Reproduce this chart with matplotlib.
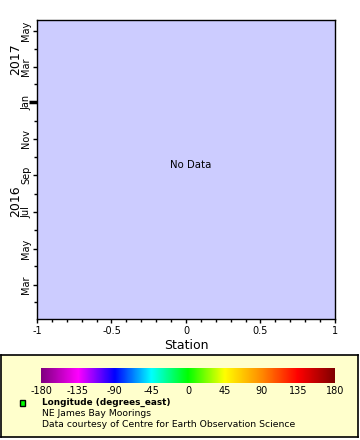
import numpy as np
import pandas as pd
import matplotlib
matplotlib.use("Agg")
import matplotlib.pyplot as plt
import matplotlib.dates as mdates
from matplotlib.colors import LinearSegmentedColormap
from matplotlib.patches import Rectangle

plt.rcParams['font.family'] = ['DejaVu Sans']
plt.rcParams['axes.unicode_minus'] = False

# datos
station_range = [-1, 1]
time_range = pd.to_datetime(["2016-01-04", "2017-05-19"])
year_labels = ["2016", "2017"]
year_label_dates = pd.to_datetime(["2016-07-20", "2017-03-14"])
cbar_ticks = [-180, -135, -90, -45, 0, 45, 90, 135, 180]
cbar_colors = ["#800080", "#FF00FF", "#0000FF", "#00FFFF", "#00FF00",
               "#FFFF00", "#FF8C00", "#FF0000", "#800000"]
legend_lines = ["Longitude (degrees_east)", "NE James Bay Moorings",
                "Data courtesy of Centre for Earth Observation Science"]

W, H = 360, 440
fig = plt.figure(figsize=(W / 100, H / 100), dpi=100)
fig.patch.set_facecolor("white")

def box(x0, y0, x1, y1):
    # caja en pixeles (origen arriba-izquierda) -> fraccion de figura
    return [x0 / W, 1 - y1 / H, (x1 - x0) / W, (y1 - y0) / H]

ax = fig.add_axes(box(37, 20, 335, 319))
ax.set_facecolor("#CCCCFF")
ax.set_xlim(station_range)
ax.set_ylim(time_range[0], time_range[1])

ax.set_xticks(np.arange(-1, 1.01, 0.5))
ax.set_xticklabels(["-1", "-0.5", "0", "0.5", "1"])
ax.set_xticks(np.arange(-1, 1.01, 0.1), minor=True)
ax.set_xlabel("Station", fontsize=9, labelpad=2.5)

ax.yaxis.set_major_locator(mdates.MonthLocator(bymonth=[1, 3, 5, 7, 9, 11]))
ax.yaxis.set_major_formatter(mdates.DateFormatter("%b"))
ax.yaxis.set_minor_locator(mdates.MonthLocator())
for lab in ax.get_yticklabels():
    lab.set_rotation(90)
    lab.set_va("center")

ax.tick_params(axis="both", which="major", direction="out", length=3, width=1,
               labelsize=7, pad=2)
ax.tick_params(axis="both", which="minor", direction="out", length=2, width=1)
ax.tick_params(axis="y", which="major", labelsize=7, pad=1)
for sp in ax.spines.values():
    sp.set_linewidth(1)

# tick mas grueso en enero 2017
fig.canvas.draw()
for t in ax.yaxis.get_major_ticks():
    if abs(t.get_loc() - mdates.date2num(pd.Timestamp("2017-01-01"))) < 1:
        t.tick1line.set_markersize(6)
        t.tick1line.set_markeredgewidth(2.5)

ytrans = matplotlib.transforms.blended_transform_factory(fig.transFigure, ax.transData)
for lab, d in zip(year_labels, year_label_dates):
    ax.text(16 / W, d, lab, transform=ytrans, rotation=90, fontsize=9,
            ha="center", va="center")

ax.text(0.515, 0.515, "No Data", transform=ax.transAxes, fontsize=7.3,
        ha="center", va="center")

# caja de leyenda
lax = fig.add_axes(box(1, 355, 358, 437))
lax.set_facecolor("#FFFFCC")
lax.set_xticks([])
lax.set_yticks([])
for sp in lax.spines.values():
    sp.set_linewidth(1.2)

cmap = LinearSegmentedColormap.from_list("erddap_rainbow", cbar_colors)
cax = fig.add_axes(box(41, 368, 335, 383))
grad = np.linspace(cbar_ticks[0], cbar_ticks[-1], 256).reshape(1, -1)
cax.imshow(grad, aspect="auto", cmap=cmap,
           extent=[cbar_ticks[0], cbar_ticks[-1], 0, 1])
cax.set_yticks([])
cax.set_xticks(cbar_ticks)
cax.set_xticklabels([str(v) for v in cbar_ticks])
cax.tick_params(axis="x", length=0, labelsize=7, pad=2.5)
for sp in cax.spines.values():
    sp.set_visible(False)

fig.patches.append(Rectangle((20 / W, 1 - 406 / H), 5 / W, 6 / H,
                             transform=fig.transFigure, facecolor="#00FF00",
                             edgecolor="black", linewidth=1))
fig.text(42 / W, 1 - 405 / H, legend_lines[0], fontsize=6.4, fontweight="bold",
         va="baseline", ha="left")
fig.text(42 / W, 1 - 416 / H, legend_lines[1], fontsize=6.7, va="baseline", ha="left")
fig.text(42 / W, 1 - 427 / H, legend_lines[2], fontsize=6.7, va="baseline", ha="left")

fig.savefig("out.png", dpi=100)
